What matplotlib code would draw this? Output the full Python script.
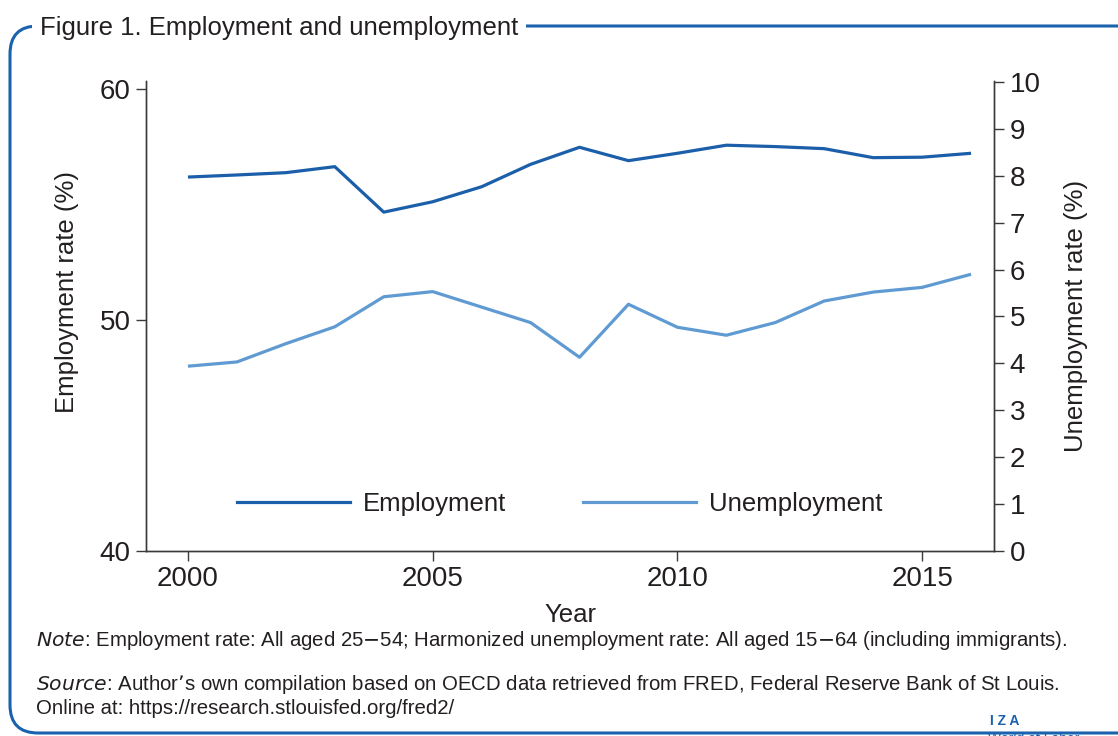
import numpy as np
import matplotlib.pyplot as plt
from matplotlib.patches import FancyBboxPatch
from matplotlib.lines import Line2D

plt.rcParams['font.family'] = ['Liberation Sans', 'DejaVu Sans']

# data
years = [2000, 2001, 2002, 2003, 2004, 2005, 2006, 2007, 2008,
         2009, 2010, 2011, 2012, 2013, 2014, 2015, 2016]
employment = [56.20, 56.29, 56.39, 56.65, 54.68, 55.13, 55.78, 56.75, 57.49,
              56.91, 57.23, 57.58, 57.52, 57.43, 57.04, 57.06, 57.23]
unemployment = [3.94, 4.03, 4.42, 4.78, 5.42, 5.53, 5.20, 4.87, 4.13,
                5.26, 4.77, 4.60, 4.87, 5.33, 5.52, 5.62, 5.90]

xticks = [2000, 2005, 2010, 2015]
left_ticks = [40, 50, 60]
right_ticks = list(range(0, 11))

dark_blue = '#1b5ea9'
light_blue = '#5f9bd2'
frame_blue = '#1a62ad'
text_col = '#231f20'
axis_col = '#3a3a3a'

fig = plt.figure(figsize=(11.18, 7.36), dpi=100)
ax = fig.add_axes([0.1303, 0.2514, 0.7591, 0.6385])
ax2 = ax.twinx()

ax.plot(years, employment, color=dark_blue, lw=2.3, solid_capstyle='butt')
ax2.plot(years, unemployment, color=light_blue, lw=2.3, solid_capstyle='butt')

ax.set_xlim(1999.136, 2016.476)
ax.set_ylim(40, 60.36)
ax2.set_ylim(0, 10.02)
ax.set_xticks(xticks)
ax.set_yticks(left_ticks)
ax2.set_yticks(right_ticks)

for a in (ax, ax2):
    a.spines['top'].set_visible(False)
    for s in ('left', 'right', 'bottom'):
        a.spines[s].set_color(axis_col)
        a.spines[s].set_linewidth(1.0)
    a.tick_params(colors=axis_col, labelcolor=text_col, labelsize=20,
                  length=7, width=1.0, direction='out', pad=4)

ax.set_xlabel('Year', fontsize=18.5, color=text_col, labelpad=8)
ax.set_ylabel('Employment rate (%)', fontsize=18.5, color=text_col)
ax.yaxis.set_label_coords(-0.079, 0.551)
ax2.set_ylabel('Unemployment rate (%)', fontsize=18.5, color=text_col)
ax2.yaxis.set_label_coords(1.082, 0.5)

handles = [Line2D([], [], color=dark_blue, lw=2.3),
           Line2D([], [], color=light_blue, lw=2.3)]
ax.legend(handles, ['Employment', 'Unemployment'], loc='lower center',
          bbox_to_anchor=(0.488, 0.025), ncol=2, frameon=False, fontsize=18.5,
          handlelength=4.4, handletextpad=0.5, columnspacing=3.0,
          labelcolor=text_col)

# rounded blue frame (display/pixel coords)
frame = FancyBboxPatch((10, 3), 1200, 707,
                       boxstyle='round,pad=0,rounding_size=28',
                       transform=None, fill=False, edgecolor=frame_blue,
                       lw=2.2, clip_on=False)
fig.add_artist(frame)

fig.text(40 / 1118, 1 - 28 / 736, 'Figure 1. Employment and unemployment',
         fontsize=18.5, color=text_col, va='center', ha='left',
         bbox=dict(facecolor='white', edgecolor='none', pad=6))

fig.text(36 / 1118, 1 - 640 / 736,
         r'$\it{Note}$: Employment rate: All aged 25$-$54; Harmonized unemployment rate: All aged 15$-$64 (including immigrants).',
         fontsize=14.7, color=text_col, va='center', ha='left')
fig.text(36 / 1118, 1 - 684 / 736,
         r'$\it{Source}$: Author’s own compilation based on OECD data retrieved from FRED, Federal Reserve Bank of St Louis.',
         fontsize=14.7, color=text_col, va='center', ha='left')
fig.text(36 / 1118, 1 - 708 / 736,
         'Online at: https://research.stlouisfed.org/fred2/',
         fontsize=14.7, color=text_col, va='center', ha='left')

# logo fragment in the corner
fig.text(990 / 1118, 1 - 721 / 736, 'I Z A', fontsize=10, color=frame_blue,
         fontweight='bold', va='center', ha='left')
fig.text(988 / 1118, 1 - 739 / 736, 'World of Labor', fontsize=10,
         color=frame_blue, va='center', ha='left')

fig.savefig('out.png', dpi=100)
